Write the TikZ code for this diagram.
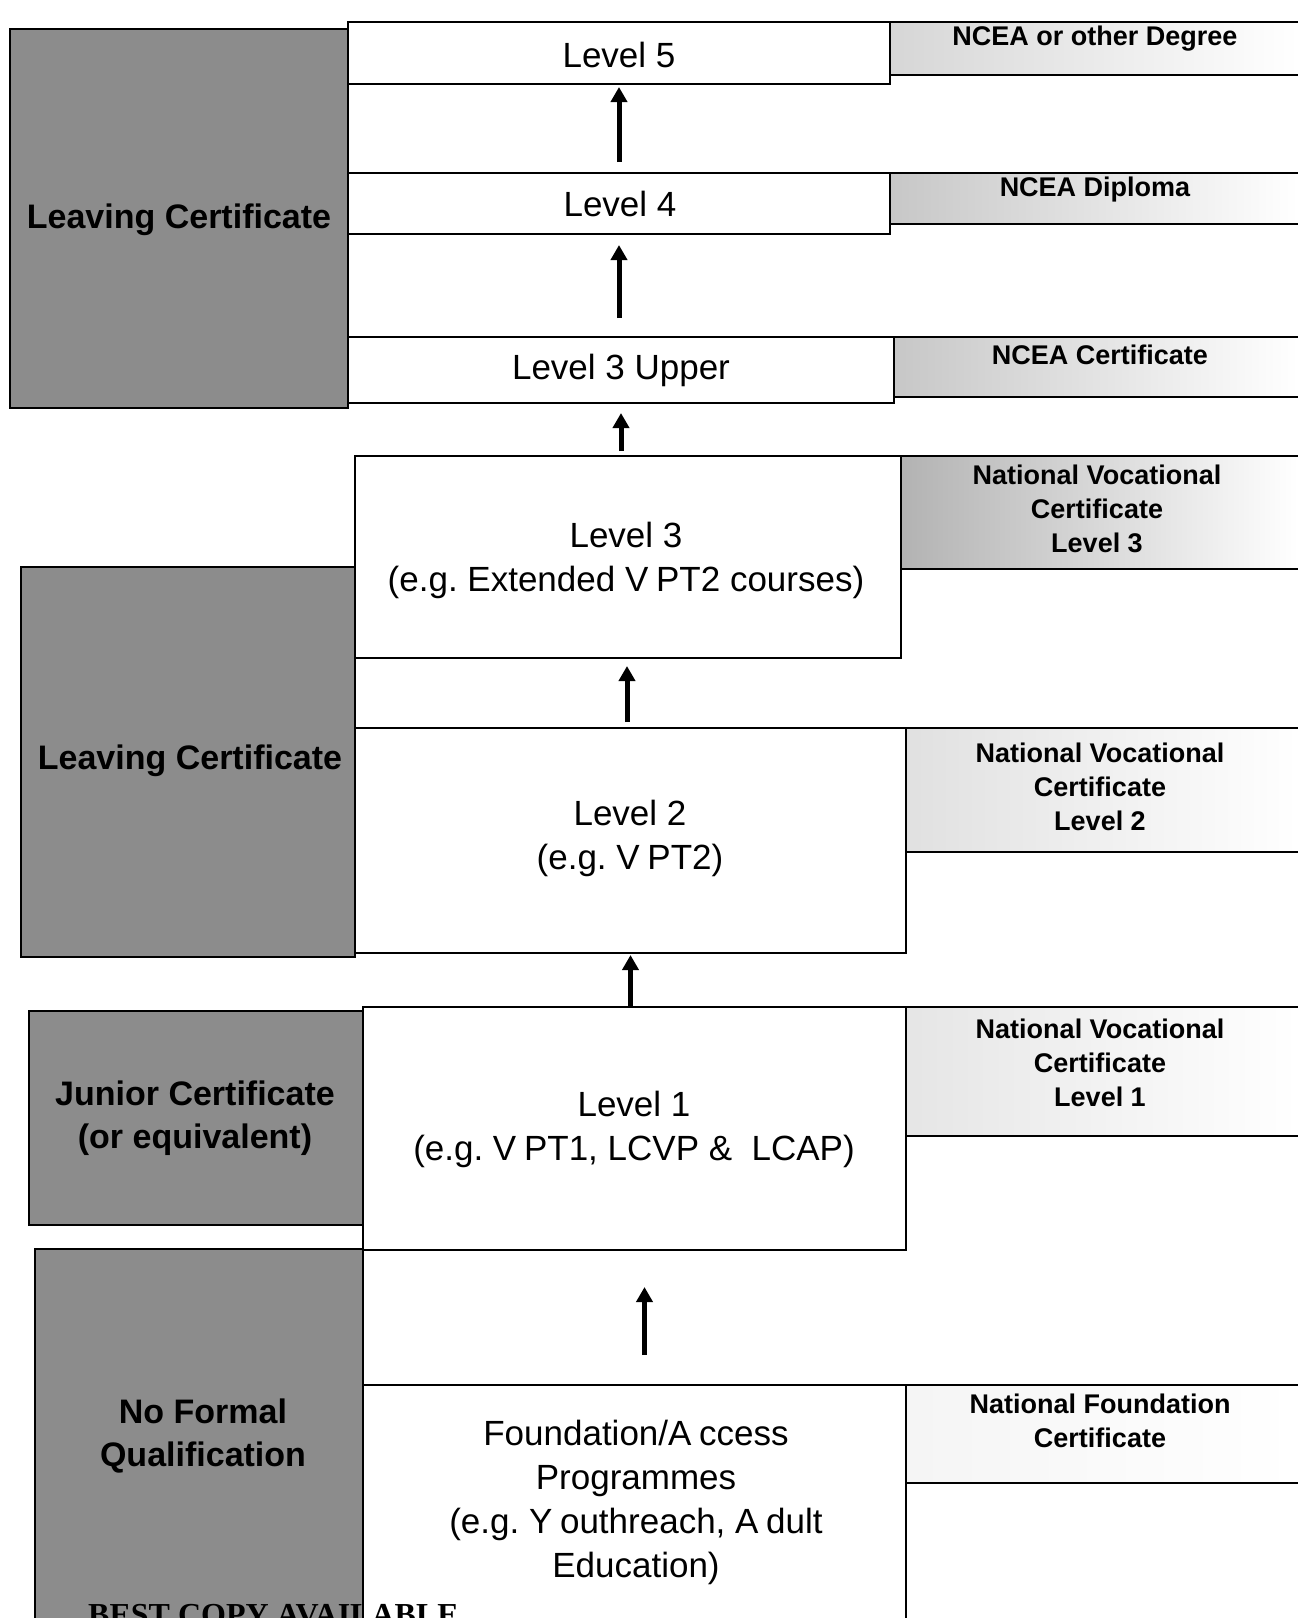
\documentclass[tikz,border=0pt]{standalone}
\usepackage{fontspec}
\setmainfont{Liberation Sans}
\newfontfamily\bcfont{Liberation Serif}
\usetikzlibrary{arrows.meta,fit,calc}
\newcommand\gp{\kern0.22em}
\begin{document}
\begin{tikzpicture}[x=1pt,y=-1pt,
  bl/.style={line width=2.4pt},
  gbox/.style={bl, draw, fill=black!45, inner sep=0pt, outer sep=0pt},
  mbox/.style={bl, draw, fill=white, inner sep=0pt, outer sep=0pt},
  rbox/.style={inner sep=0pt, outer sep=0pt, right color=white},
  gtext/.style={font=\fontsize{34}{43}\selectfont\bfseries\frenchspacing, align=center, inner sep=0pt},
  mtext/.style={font=\fontsize{35}{44}\selectfont\frenchspacing, align=center, inner sep=0pt},
  rtext/.style={font=\fontsize{27}{34}\selectfont\bfseries\frenchspacing, align=center, inner sep=0pt},
  arr/.style={line width=5pt, -{Triangle[length=15pt,width=16pt]}},
]
\useasboundingbox (0,0) rectangle (1298,1618);
\clip (0,0) rectangle (1298,1618);

% right-hand qualification boxes (fills)
\node[rbox, left color=black!16, fit={(890,22) (1298,75)}]   (R5) {};
\node[rbox, left color=black!22, fit={(890,173) (1298,224)}]  (R4) {};
\node[rbox, left color=black!22, fit={(894,337) (1298,397)}]  (R3U) {};
\node[rbox, left color=black!30, fit={(901,456) (1298,569)}]  (R3) {};
\node[rbox, left color=black!12, fit={(906,728) (1298,852)}]  (R2) {};
\node[rbox, left color=black!10, fit={(906,1007) (1298,1136)}] (R1) {};
\node[rbox, left color=black!4,  fit={(906,1385) (1298,1483)}] (RF) {};
\foreach \r in {R5,R4,R3U,R3,R2,R1,RF}
  \draw[bl] (\r.north east) -- (\r.north west) -- (\r.south west) -- (\r.south east);

% grey boxes (current qualification)
\node[gbox, fit={(10,29) (348,408)}]    (G1) {};
\node[gbox, fit={(21,567) (355,957)}]   (G2) {};
\node[gbox, fit={(29,1011) (363,1225)}] (G3) {};
\node[gbox, fit={(35,1249) (363,1625)}] (G4) {};

% level boxes
\node[mbox, fit={(348,22) (890,84)}]     (L5)  {};
\node[mbox, fit={(348,173) (890,234)}]   (L4)  {};
\node[mbox, fit={(348,337) (894,403)}]   (L3U) {};
\node[mbox, fit={(355,456) (901,658)}]   (L3)  {};
\node[mbox, fit={(355,728) (906,953)}]   (L2)  {};
\node[mbox, fit={(363,1007) (906,1250)}] (L1)  {};
\node[mbox, fit={(363,1385) (906,1625)}] (F)   {};

% texts of the grey boxes
\node[gtext] (tG1) at (179,220)  {Leaving Certificate};
\node[gtext] (tG2) at (190,761)  {Leaving Certificate};
\node[gtext] (tG3) at (195,1118) {Junior Certificate\\(or equivalent)};
\node[gtext] (tG4) at (203,1436) {No Formal\\Qualification};

% texts of the level boxes
\node[mtext] (tL5)  at (619,55)   {Level 5};
\node[mtext] (tL4)  at (620,204)  {Level 4};
\node[mtext] (tL3U) at (621,370)  {Level 3 Upper};
\node[mtext] (tL3)  at (626,560)  {Level 3\\(e.g. Extended V\gp PT2 courses)};
\node[mtext] (tL2)  at (630,838)  {Level 2\\(e.g. V\gp PT2)};
\node[mtext] (tL1)  at (634,1129) {Level 1\\(e.g. V\gp PT1, LCVP \&\ \ LCAP)};
\node[mtext] (tF)   at (636,1502) {Foundation/A\gp ccess\\Programmes\\(e.g. Y\gp outhreach, A\gp dult\\Education)};

% right-hand labels
\node[rtext] (T5)  at (1095,39)   {NCEA or other Degree};
\node[rtext] (T4)  at (1095,190)  {NCEA Diploma};
\node[rtext] (T3U) at (1100,355)  {NCEA Certificate};
\node[rtext] (T3)  at (1097,509)  {National Vocational\\Certificate\\Level 3};
\node[rtext] (T2)  at (1100,787)  {National Vocational\\Certificate\\Level 2};
\node[rtext] (T1)  at (1100,1063) {National Vocational\\Certificate\\Level 1};
\node[rtext] (TF)  at (1100,1421) {National Foundation\\Certificate};

% progression arrows
\draw[arr, shorten <=11pt, shorten >=3pt]  (L5.south |- L4.north) -- (L5.south);
\draw[arr, shorten <=19pt, shorten >=11pt] (L4.south |- L3U.north) -- (L4.south);
\draw[arr, shorten <=5pt, shorten >=10pt]  (L3U.south |- L3.north) -- (L3U.south);
\draw[arr, shorten <=6pt, shorten >=8pt]   ([xshift=-1pt]L3.south |- L2.north) -- ([xshift=-1pt]L3.south);
\draw[arr, shorten <=1pt, shorten >=2pt]   (L2.south |- L1.north) -- (L2.south);
\draw[arr, shorten <=30pt, shorten >=37pt] ([xshift=10pt]L1.south |- F.north) -- ([xshift=10pt]L1.south);

% scanner stamp, cut off by the page edge as in the scan
\node[anchor=base west, inner sep=0pt, font=\bcfont\bfseries\fontsize{32}{32}\selectfont] (stamp) at (88,1625) {BEST COPY AVAILABLE};
\end{tikzpicture}
\end{document}
